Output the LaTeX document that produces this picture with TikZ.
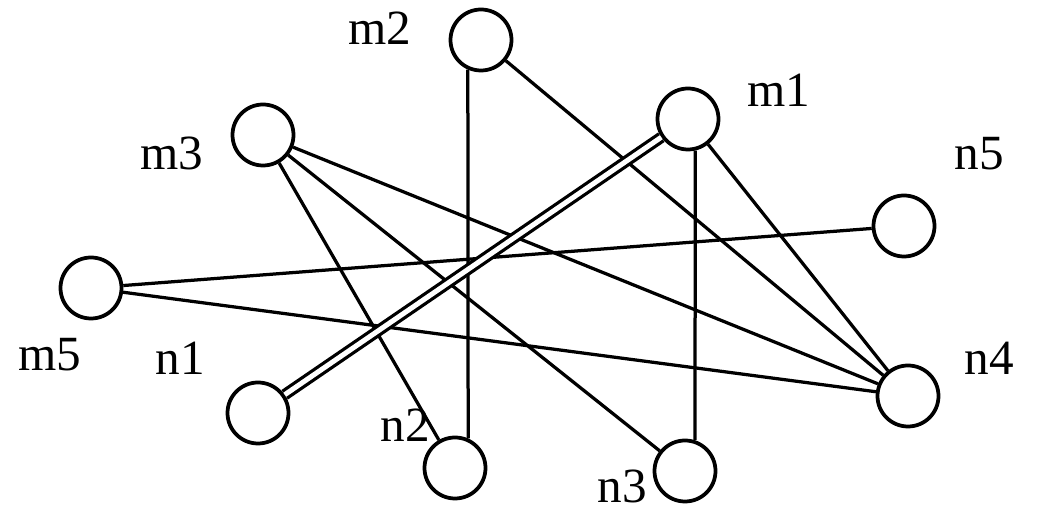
\documentclass[tikz,border=0pt]{standalone}
\usepackage{fontspec}
\setmainfont{Liberation Serif}
\usetikzlibrary{positioning}

\begin{document}
\begin{tikzpicture}

        % Setup the style for the vertices and labels
        \tikzset{vertex style/.style={circle, draw,
                                      minimum size=1.22cm,
                                      inner sep=0pt,
                                      line width=.75mm
                                      },
                 label style/.style={inner sep=0pt,
                                     font=\fontsize{28}{32}\selectfont
                                     }}

        \useasboundingbox (0, 0) rectangle (20.8, -10.26);

        % Draw the vertices
        \node[vertex style] at (9.62, -0.80)  (M2) {};
        \node[vertex style] at (13.76, -2.38) (M1) {};
        \node[vertex style] at (5.26, -2.70)  (M3) {};
        \node[vertex style] at (18.08, -4.52) (N5) {};
        \node[vertex style] at (1.82, -5.76)  (M5) {};
        \node[vertex style] at (5.16, -8.26)  (N1) {};
        \node[vertex style] at (9.10, -9.36)  (N2) {};
        \node[vertex style] at (13.70, -9.42) (N3) {};
        \node[vertex style] at (18.16, -7.92) (N4) {};

        % Draw the labels
        \node[label style] at (7.60, -0.56)  (M2Label) {m2};
        \node[label style] at (15.58, -1.80) (M1Label) {m1};
        \node[label style] at (3.44, -3.06)  (M3Label) {m3};
        \node[label style] at (19.58, -3.08) (N5Label) {n5};
        \node[label style] at (1.00, -7.10)  (M5Label) {m5};
        \node[label style] at (3.60, -7.16)  (N1Label) {n1};
        \node[label style] at (8.10, -8.50)  (N2Label) {n2};
        \node[label style] at (12.44, -9.72) (N3Label) {n3};
        \node[label style] at (19.78, -7.16) (N4Label) {n4};

        % Connect the vertices
        \draw[line width=.65mm]
            (M2.-114) edge (N2.66)
            (M2)      edge (N4)
            (M1.-77)  edge (N3.72)
            (M1)      edge (N4)
            (M3)      edge (N2)
            (M3)      edge (N3)
            (M3)      edge (N4)
            (M5)      edge (N5)
            (M5)      edge (N4);
        \draw[line width=.65mm, double, double distance=1mm]
            (M1) -- (N1);
      \end{tikzpicture}
\end{document}
